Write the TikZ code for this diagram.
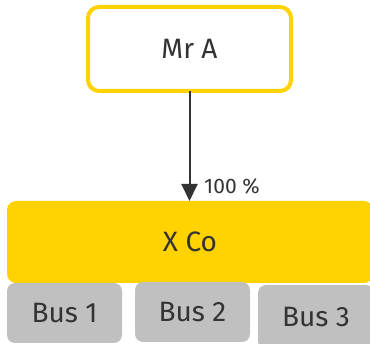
\documentclass[tikz,border=0pt]{standalone}
\usepackage{fontspec}
\setmainfont{Fira Sans}
\usetikzlibrary{arrows.meta,calc}
\definecolor{eyyellow}{HTML}{FFD200}
\definecolor{busgray}{HTML}{C0C0C0}
\definecolor{inkgray}{HTML}{333333}
\begin{document}
\begin{tikzpicture}[x=1pt,y=-1pt,
  box/.style={rounded corners=9pt, inner sep=0pt, outer sep=0pt, text=inkgray,
    font=\fontsize{28}{32}\selectfont},
  ownerbox/.style={box, draw=eyyellow, line width=4pt, fill=white, rounded corners=11pt},
  cobox/.style={box, fill=eyyellow},
  busbox/.style={box, fill=busgray, rounded corners=8pt},
  link/.style={draw=inkgray, line width=2pt, -{Triangle[width=16pt,length=17pt]}},
  pctlabel/.style={text=inkgray, inner sep=0pt, font=\fontsize{21}{24}\selectfont}]
  \useasboundingbox (0,0) rectangle (370,344);
  \begin{scope}
    \clip (0,0) rectangle (370,344);
    % owner
    \node[ownerbox, minimum width=203pt, minimum height=84pt] (mra) at (189.5,49) {Mr A};
    % company
    \node[cobox, minimum width=366pt, minimum height=82pt] (xco) at (190,242) {X Co};
    % business lines
    \node[busbox, minimum width=115pt, minimum height=60pt] (bus1) at (64.5,313) {Bus 1};
    \node[busbox, minimum width=115pt, minimum height=60pt] (bus2) at (192.5,312) {Bus 2};
    \node[busbox, minimum width=116pt, minimum height=64pt] (bus3) at (316,317) {Bus 3};
    % shareholding
    \draw[link] (mra.south) -- (mra.south |- xco.north);
    \node[pctlabel, anchor=west] (pct) at (204,186) {100 \%};
  \end{scope}
\end{tikzpicture}
\end{document}
